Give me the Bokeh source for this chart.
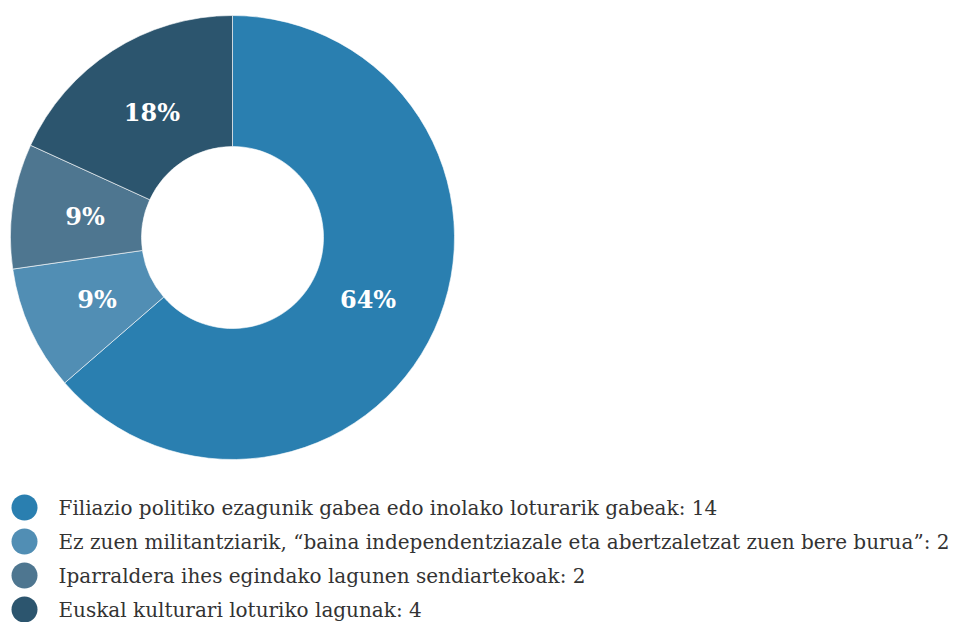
import numpy as np
from bokeh.plotting import figure
from bokeh.models import Range1d, ColumnDataSource
from bokeh.core.properties import value
from bokeh.embed import file_html
from bokeh.resources import INLINE

categories = [
    "Filiazio politiko ezagunik gabea edo inolako loturarik gabeak: 14",
    "Ez zuen militantziarik, \u201cbaina independentziazale eta abertzaletzat zuen bere burua\u201d: 2",
    "Iparraldera ihes egindako lagunen sendiartekoak: 2",
    "Euskal kulturari loturiko lagunak: 4",
]
counts = [14, 2, 2, 4]
colors = ["#2a7fb0", "#518eb4", "#4e7690", "#2c556e"]

W, H = 966, 622
p = figure(width=W, height=H, output_backend="svg", toolbar_location=None,
           x_range=Range1d(0, W), y_range=Range1d(624 - H, 624),
           min_border=0, outline_line_color=None)
p.axis.visible = False
p.grid.visible = False
p.background_fill_color = "white"
p.border_fill_color = "white"

cx, cy = 232, 624 - 237
r_out, r_in = 222, 91

vals = np.array(counts, dtype=float)
frac = vals / vals.sum()
cum = np.concatenate([[0], np.cumsum(frac)])
start = np.pi / 2 - 2 * np.pi * cum[:-1]
end = np.pi / 2 - 2 * np.pi * cum[1:]
mid = (start + end) / 2
r_lab = 149
labels = [f"{round(f * 100)}%" for f in frac]

src = ColumnDataSource(dict(start=start, end=end, color=colors,
                            lx=cx + r_lab * np.cos(mid), ly=cy + r_lab * np.sin(mid),
                            lab=labels))
p.annular_wedge(x=cx, y=cy, inner_radius=r_in, outer_radius=r_out,
                start_angle="start", end_angle="end", direction="clock",
                fill_color="color", line_color="white", line_width=0.6, source=src)
p.text(x="lx", y="ly", text="lab", source=src, text_color="white",
       text_font=value("DejaVu Serif"), text_font_style="bold", text_font_size="24px",
       text_align="center", text_baseline="middle")

# legend
n = len(categories)
row_y = [624 - (507 + i * 34) for i in range(n)]
leg = ColumnDataSource(dict(x=[24] * n, tx=[58] * n, y=row_y, color=colors, txt=categories))
p.scatter(x="x", y="y", size=26, fill_color="color", line_color=None, source=leg)
p.text(x="tx", y="y", text="txt", source=leg, text_color="#333333",
       text_font=value("DejaVu Serif"), text_font_size="20px",
       text_align="left", text_baseline="middle")

open("out.html", "w").write(file_html(p, INLINE))
